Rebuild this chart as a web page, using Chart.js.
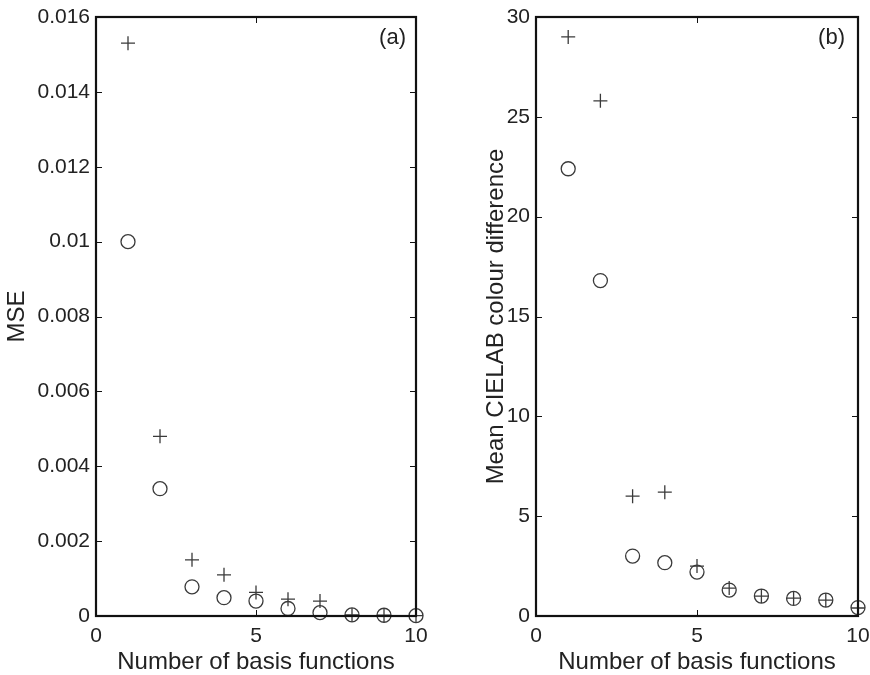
<!DOCTYPE html>
<html>
<head>
<meta charset="utf-8">
<script src="https://cdn.jsdelivr.net/npm/chart.js@4/dist/chart.umd.min.js"></script>
<style>
  html, body { margin: 0; padding: 0; background: #fff; }
  #wrap { position: relative; width: 870px; height: 675px; }
  .panel { position: absolute; top: 0; width: 430px; height: 675px; }
</style>
</head>
<body>
<div id="wrap">
  <div class="panel" style="left:0"><canvas id="chartA"></canvas></div>
  <div class="panel" style="left:440px"><canvas id="chartB"></canvas></div>
</div>
<script>
// number of basis functions
const basisCounts = [1, 2, 3, 4, 5, 6, 7, 8, 9, 10];

// panel (a): MSE
const msePlus   = [0.0153, 0.0048, 0.0015, 0.0011, 0.00063, 0.00045, 0.0004, 0.00003, 0.00002, 0.00001];
const mseCircle = [0.0100, 0.0034, 0.00078, 0.00049, 0.0004, 0.0002, 0.00009, 0.00003, 0.00002, 0.00001];

// panel (b): mean CIELAB colour difference
const labPlus   = [29.0, 25.8, 6.0, 6.2, 2.5, 1.4, 1.0, 0.9, 0.8, 0.4];
const labCircle = [22.4, 16.8, 3.0, 2.67, 2.2, 1.3, 1.0, 0.88, 0.8, 0.42];

const xTickLabels = ['0', '5', '10'];

const FONT = "'Liberation Sans', Arial, sans-serif";
const INK = '#222';
const MARK = '#3a3a3a';

// frame box + inward ticks on all four sides, as in the original figure
const framePlugin = {
  id: 'frame',
  afterDraw(chart, args, opts) {
    const { ctx, chartArea: a, scales } = chart;
    ctx.save();
    ctx.strokeStyle = '#111';
    ctx.lineWidth = 1;
    const t = 6;
    scales.x.ticks.forEach(tk => {
      const px = Math.round(scales.x.getPixelForValue(tk.value)) + 0.5;
      ctx.beginPath();
      ctx.moveTo(px, a.bottom); ctx.lineTo(px, a.bottom - t);
      ctx.moveTo(px, a.top); ctx.lineTo(px, a.top + t);
      ctx.stroke();
    });
    scales.y.ticks.forEach(tk => {
      const py = Math.round(scales.y.getPixelForValue(tk.value)) + 0.5;
      ctx.beginPath();
      ctx.moveTo(a.left, py); ctx.lineTo(a.left + t, py);
      ctx.moveTo(a.right, py); ctx.lineTo(a.right - t, py);
      ctx.stroke();
    });
    ctx.lineWidth = 2.2;
    ctx.strokeRect(a.left, a.top, a.right - a.left, a.bottom - a.top);
    // panel letter
    ctx.fillStyle = INK;
    ctx.font = '22px ' + FONT;
    ctx.textAlign = 'right';
    ctx.textBaseline = 'middle';
    ctx.fillText(opts.label, a.right - opts.dx, a.top + 21);
    ctx.restore();
  }
};

function makePanel(id, label, plus, circle, yMax, yStep, yTitle, titleGap, rightPad, labelDx) {
  const pts = vals => vals.map((v, i) => ({ x: basisCounts[i], y: v }));
  new Chart(document.getElementById(id), {
    type: 'scatter',
    data: {
      datasets: [{
        data: pts(plus),
        pointStyle: 'cross',
        pointRadius: 7,
        pointBorderWidth: 1.3,
        borderColor: MARK,
        backgroundColor: 'transparent',
        clip: false
      }, {
        data: pts(circle),
        pointStyle: 'circle',
        pointRadius: 7,
        pointBorderWidth: 1.3,
        borderColor: MARK,
        backgroundColor: 'transparent',
        clip: false
      }]
    },
    options: {
      responsive: false,
      animation: false,
      events: [],
      layout: { padding: { top: 17, right: rightPad, bottom: 0, left: 0 } },
      scales: {
        x: {
          type: 'linear',
          min: 0, max: 10,
          grid: { display: false, drawTicks: false },
          border: { display: false },
          ticks: {
            stepSize: 5,
            padding: 8,
            maxRotation: 0,
            color: INK,
            font: { family: FONT, size: 21 },
            callback: v => xTickLabels[v / 5]
          },
          title: {
            display: true,
            text: 'Number of basis functions',
            color: INK,
            font: { family: FONT, size: 24 },
            padding: { top: 0, bottom: -2 }
          },
          afterFit: s => { s.height = 59; s.paddingLeft = 0; s.paddingRight = 0; }
        },
        y: {
          min: 0, max: yMax,
          grid: { display: false, drawTicks: false },
          border: { display: false },
          ticks: {
            stepSize: yStep,
            padding: 6,
            color: INK,
            font: { family: FONT, size: 21 },
            callback: v => String(+v.toFixed(4))
          },
          title: {
            display: true,
            text: yTitle,
            color: INK,
            font: { family: FONT, size: 24 },
            padding: { top: titleGap, bottom: 0 }
          },
          afterFit: s => { s.width = 96; s.paddingTop = 0; s.paddingBottom = 0; }
        }
      },
      plugins: {
        legend: { display: false },
        tooltip: { enabled: false },
        frame: { label: label, dx: labelDx }
      }
    },
    plugins: [framePlugin]
  });
}

for (const id of ['chartA', 'chartB']) {
  const c = document.getElementById(id);
  c.width = 430; c.height = 675;
}

makePanel('chartA', '(a)', msePlus, mseCircle, 0.016, 0.002, 'MSE', 3, 14, 10);
makePanel('chartB', '(b)', labPlus, labCircle, 30, 5, 'Mean CIELAB colour difference', 42, 12, 13);
</script>
</body>
</html>
